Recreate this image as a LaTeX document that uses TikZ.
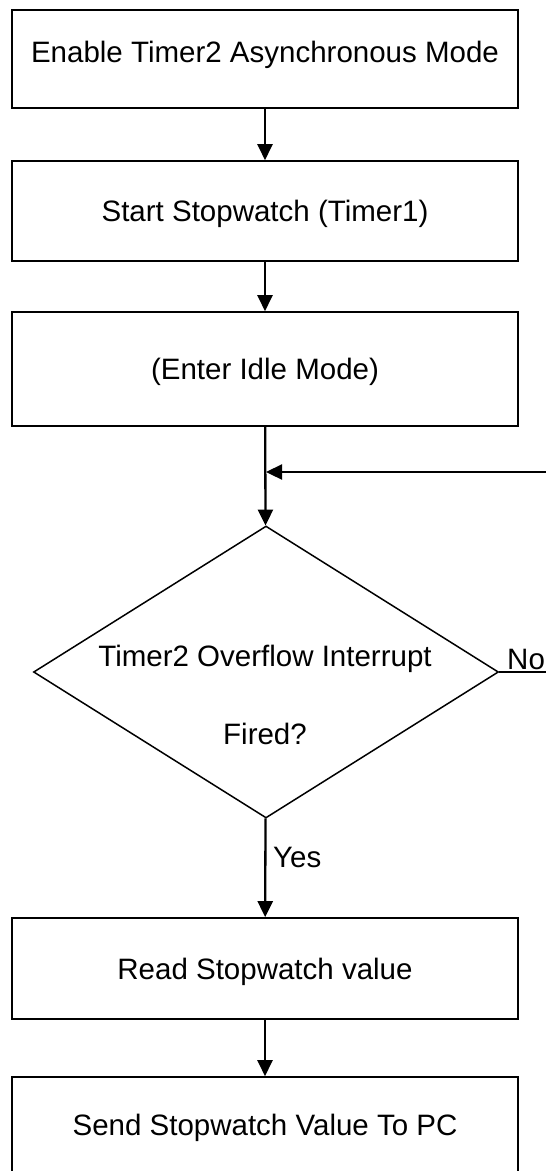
\documentclass[tikz,border=0pt]{standalone}
\usepackage{fontspec}
\setmainfont{Liberation Sans}
\usetikzlibrary{arrows.meta,shapes.geometric}
\begin{document}
\begin{tikzpicture}[x=1pt,y=-1pt,
  every node/.style={font=\fontsize{29.5}{35}\selectfont, text height=21.1pt, text depth=0pt},
  procbox/.style={draw=black, line width=1.6pt, minimum width=506pt, inner sep=0pt},
  decision/.style={draw=black, line width=1.5pt, diamond, minimum width=465pt, minimum height=292pt, inner sep=0pt},
  lbl/.style={inner sep=0pt},
  flow/.style={line width=2.3pt, -{Triangle[length=16pt,width=15pt]}},
  plain/.style={line width=2.2pt}]
\useasboundingbox (0,0) rectangle (546,1171);
\clip (0,0) rectangle (546,1171);
\node[procbox, minimum height=98pt, text depth=15pt] (b1) at (265,59) {Enable Timer2 Asynchronous Mode};
\node[procbox, minimum height=100pt] (b2) at (265,211) {Start Stopwatch (Timer1)};
\node[procbox, minimum height=114pt] (b3) at (265,369) {(Enter Idle Mode)};
\node[decision] (d) at (266,672) {};
\node[lbl] (dt1) at (265,656) {Timer2 Overflow Interrupt};
\node[lbl] (dt2) at (265,734) {Fired?};
\node[procbox, minimum height=101pt] (b4) at (265,968.5) {Read Stopwatch value};
\node[procbox, minimum height=100pt, text depth=4pt] (b5) at (265,1127) {Send Stopwatch Value To PC};
\draw[flow] (b1) -- (b2);
\draw[flow] (b2) -- (b3);
\draw[flow] (b3) -- (d);
\coordinate (fbR) at (546,472);
\draw[flow] (fbR) -- (fbR -| d.north);
\coordinate (noR) at (546,672);
\draw[plain] (d.east) -- (noR);
\node[lbl, anchor=west] (no) at (507,659) {No};
\draw[flow] (d) -- (b4);
\node[lbl, anchor=west] (yes) at (273,857) {Yes};
\draw[flow] (b4) -- (b5);
\end{tikzpicture}
\end{document}
